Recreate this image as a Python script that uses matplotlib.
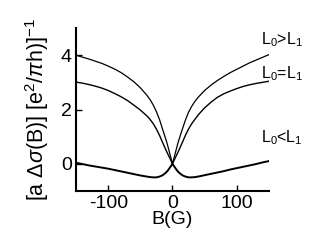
import matplotlib
matplotlib.use('Agg')
import matplotlib.pyplot as plt

plt.rcParams['font.family'] = ['Liberation Sans', 'DejaVu Sans']
plt.rcParams['mathtext.fontset'] = 'custom'
plt.rcParams['mathtext.rm'] = 'Liberation Sans'
plt.rcParams['mathtext.it'] = 'Liberation Sans:italic'
plt.rcParams['mathtext.bf'] = 'Liberation Sans:bold'
plt.rcParams['axes.unicode_minus'] = False

# |B| grid (G) used for both halves
b_abs = [0, 2, 4, 6, 8, 10, 13, 16, 20, 25, 30, 35, 40, 50, 60, 70, 80, 90,
         100, 110, 120, 130, 140, 150]

# L0 > L1
top_neg = [0, 0.18, 0.36, 0.54, 0.72, 0.88, 1.1, 1.32, 1.62, 1.92, 2.17, 2.37, 2.53,
           2.8, 3.02, 3.2, 3.36, 3.49, 3.6, 3.7, 3.78, 3.86, 3.93, 4.0]
top_pos = [0, 0.18, 0.36, 0.54, 0.72, 0.88, 1.1, 1.32, 1.6, 1.9, 2.12, 2.3, 2.45,
           2.7, 2.9, 3.07, 3.22, 3.36, 3.48, 3.6, 3.72, 3.82, 3.92, 4.02]

# L0 = L1
mid_neg = [0, 0.1, 0.2, 0.3, 0.4, 0.5, 0.66, 0.82, 1.04, 1.28, 1.48, 1.64, 1.77,
           1.98, 2.16, 2.33, 2.47, 2.59, 2.7, 2.79, 2.86, 2.92, 2.97, 3.01]
mid_pos = [0, 0.1, 0.2, 0.3, 0.4, 0.5, 0.66, 0.82, 1.04, 1.28, 1.48, 1.64, 1.8,
           2.06, 2.27, 2.45, 2.58, 2.68, 2.77, 2.85, 2.91, 2.96, 3.0, 3.04]

# L0 < L1
low_neg = [0, -0.07, -0.14, -0.21, -0.27, -0.32, -0.38, -0.43, -0.47, -0.5, -0.5,
           -0.49, -0.47, -0.43, -0.38, -0.33, -0.28, -0.23, -0.18, -0.14, -0.1,
           -0.06, -0.01, 0.04]
low_pos = [0, -0.07, -0.14, -0.21, -0.27, -0.32, -0.38, -0.43, -0.47, -0.5, -0.5,
           -0.49, -0.47, -0.42, -0.37, -0.32, -0.27, -0.21, -0.16, -0.11, -0.06,
           -0.01, 0.05, 0.1]

labels = [r'L$_\mathregular{0}$>L$_\mathregular{1}$',
          r'L$_\mathregular{0}$=L$_\mathregular{1}$',
          r'L$_\mathregular{0}$<L$_\mathregular{1}$']
label_y = [4.41, 3.15, 0.81]


def full_curve(neg, pos):
    b = [-v for v in b_abs[::-1]] + b_abs[1:]
    s = neg[::-1] + pos[1:]
    return b, s


fig = plt.figure(figsize=(3.13, 2.42), dpi=100)
ax = fig.add_axes([0.243, 0.211, 0.616, 0.673])

for neg, pos, lw in [(top_neg, top_pos, 0.9), (mid_neg, mid_pos, 1.0), (low_neg, low_pos, 1.4)]:
    b, s = full_curve(neg, pos)
    ax.plot(b, s, color='black', lw=lw)

for txt, yy in zip(labels, label_y):
    ax.text(138, yy, txt, fontsize=11.5, va='baseline', ha='left', clip_on=False)

ax.set_xlim(-150, 150)
ax.set_ylim(-1, 5)
ax.set_xticks([-100, 0, 100])
ax.set_yticks([0, 2, 4])
ax.spines['top'].set_visible(False)
ax.spines['right'].set_visible(False)
ax.spines['left'].set_linewidth(1.5)
ax.spines['bottom'].set_linewidth(1.5)
ax.tick_params(direction='in', length=4, width=1, labelsize=14, pad=3)

ax.set_xlabel('B(G)', fontsize=14, labelpad=-1)
ax.set_ylabel(r'[a $\Delta\sigma$(B)] [e$^\mathregular{2}$/$\pi$h)]$^\mathregular{-1}$',
              fontsize=15.5, labelpad=7)

fig.savefig('out.png', dpi=100)
